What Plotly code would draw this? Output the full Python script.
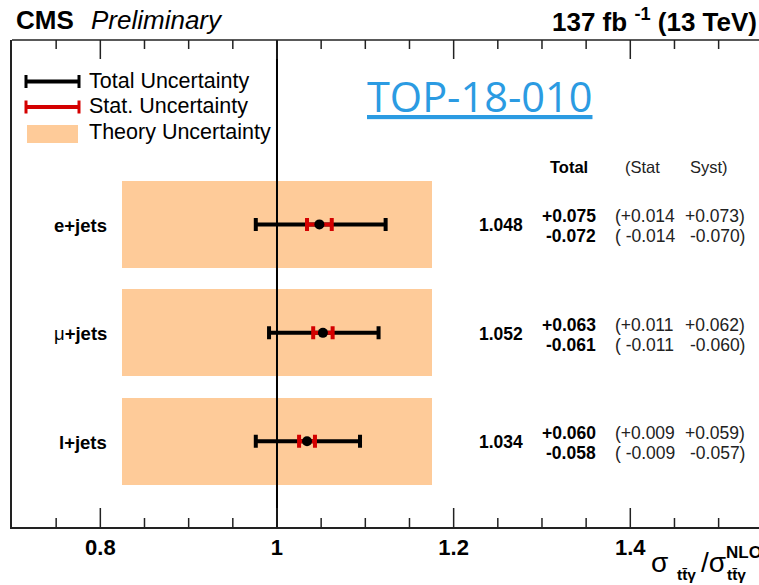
import plotly.graph_objects as go

# ---------------- data ----------------
channels = ["e+jets", "μ+jets", "l+jets"]
ypos = [3, 2, 1]
ratio = [1.048, 1.052, 1.034]
tot_up = [0.075, 0.063, 0.060]
tot_dn = [0.072, 0.061, 0.058]
stat_up = [0.014, 0.011, 0.009]
stat_dn = [0.014, 0.011, 0.009]
syst_up = [0.073, 0.062, 0.059]
syst_dn = [0.070, 0.060, 0.057]
theory_lo = [0.825, 0.825, 0.825]
theory_hi = [1.175, 1.175, 1.175]
major_ticks = [0.8, 1.0, 1.2, 1.4]
major_labels = ["0.8", "1", "1.2", "1.4"]
minor_ticks = [0.75, 0.85, 0.9, 0.95, 1.05, 1.1, 1.15, 1.25, 1.3, 1.35, 1.45, 1.5]

# ---------------- style ----------------
W, H = 759, 585
ML, MR, MT, MB = 12, 0, 40, 58
PW, PH = W - ML - MR, H - MT - MB
BAND = "#fecb99"
RED = "#d40000"
AX = "#222222"
FONT = "Liberation Sans, Arial, Helvetica, sans-serif"
YR = [0.21, 4.70]
XR = [0.70, 1.5457]
MAJ_LEN, MIN_LEN = 19, 9


def px(x):
    return (x - ML) / PW


def py(y):
    return (H - MB - y) / PH


fig = go.Figure()

# theory bands
fig.add_trace(go.Bar(
    y=ypos, x=[h - l for l, h in zip(theory_lo, theory_hi)], base=theory_lo,
    orientation="h", width=0.8, marker=dict(color=BAND, line=dict(width=0)),
    hoverinfo="skip"))

# reference line at 1
fig.add_trace(go.Scatter(x=[1, 1], y=YR, mode="lines",
                         line=dict(color="black", width=2), hoverinfo="skip"))

# total uncertainty
fig.add_trace(go.Scatter(
    x=ratio, y=ypos, mode="markers",
    marker=dict(size=1, color="rgba(0,0,0,0)"),
    error_x=dict(type="data", symmetric=False, array=tot_up, arrayminus=tot_dn,
                 color="black", thickness=4, width=6.5)))

# stat uncertainty
fig.add_trace(go.Scatter(
    x=ratio, y=ypos, mode="markers",
    marker=dict(size=1, color="rgba(0,0,0,0)"),
    error_x=dict(type="data", symmetric=False, array=stat_up, arrayminus=stat_dn,
                 color=RED, thickness=4, width=6.5)))

# central values
fig.add_trace(go.Scatter(x=ratio, y=ypos, mode="markers",
                         marker=dict(size=10, color="black")))

ann = []
shapes = []

# axis ticks (inside, bottom and mirrored top), placed on the x data scale
for vals, ln in ((major_ticks, MAJ_LEN), (minor_ticks, MIN_LEN)):
    for v in vals:
        shapes.append(dict(type="line", xref="x", yref="paper", x0=v, x1=v,
                           y0=0, y1=ln / PH, line=dict(color=AX, width=1.5)))
        shapes.append(dict(type="line", xref="x", yref="paper", x0=v, x1=v,
                           y0=1, y1=1 - ln / PH, line=dict(color=AX, width=1.5)))
# top frame line
shapes.append(dict(type="line", xref="paper", yref="paper", x0=0, x1=1, y0=1, y1=1,
                   line=dict(color=AX, width=1.5)))

# channel labels
for ch, y in zip(channels, ypos):
    txt = "μ<b>+jets</b>" if ch.startswith("μ") else "<b>%s</b>" % ch
    ann.append(dict(x=px(109), y=y, xref="paper", yref="y", text=txt,
                    xanchor="right", yanchor="middle", showarrow=False, yshift=-1,
                    font=dict(size=18.5, family=FONT, color="black")))

# numbers on the right
for i, y in enumerate(ypos):
    ann.append(dict(x=px(525), y=y, xref="paper", yref="y",
                    text="<b>%.3f</b>" % ratio[i], xanchor="right", yanchor="middle",
                    showarrow=False, yshift=-1, font=dict(size=17.5, family=FONT)))
    ann.append(dict(x=px(598), y=y, xref="paper", yref="y",
                    text="<b>+%.3f</b>" % tot_up[i], xanchor="right", yanchor="middle",
                    showarrow=False, yshift=8, font=dict(size=17.5, family=FONT)))
    ann.append(dict(x=px(598), y=y, xref="paper", yref="y",
                    text="<b>-%.3f</b>" % tot_dn[i], xanchor="right", yanchor="middle",
                    showarrow=False, yshift=-12, font=dict(size=17.5, family=FONT)))
    ann.append(dict(x=px(613), y=y, xref="paper", yref="y",
                    text="(+%.3f" % stat_up[i], xanchor="left", yanchor="middle",
                    showarrow=False, yshift=8, font=dict(size=17.5, family=FONT, color="#222")))
    ann.append(dict(x=px(747), y=y, xref="paper", yref="y",
                    text="+%.3f)" % syst_up[i], xanchor="right", yanchor="middle",
                    showarrow=False, yshift=8, font=dict(size=17.5, family=FONT, color="#222")))
    ann.append(dict(x=px(613), y=y, xref="paper", yref="y",
                    text="( -%.3f" % stat_dn[i], xanchor="left", yanchor="middle",
                    showarrow=False, yshift=-12, font=dict(size=17.5, family=FONT, color="#222")))
    ann.append(dict(x=px(747), y=y, xref="paper", yref="y",
                    text="-%.3f)" % syst_dn[i], xanchor="right", yanchor="middle",
                    showarrow=False, yshift=-12, font=dict(size=17.5, family=FONT, color="#222")))

# column headers
ann.append(dict(x=px(569), y=py(167), xref="paper", yref="paper", text="<b>Total</b>",
                xanchor="center", yanchor="middle", showarrow=False,
                font=dict(size=16.5, family=FONT)))
ann.append(dict(x=px(623), y=py(167), xref="paper", yref="paper", text="(Stat",
                xanchor="left", yanchor="middle", showarrow=False,
                font=dict(size=16.5, family=FONT, color="#222")))
ann.append(dict(x=px(730), y=py(167), xref="paper", yref="paper", text="Syst)",
                xanchor="right", yanchor="middle", showarrow=False,
                font=dict(size=16.5, family=FONT, color="#222")))

# header
ann.append(dict(x=px(14), y=py(20), xref="paper", yref="paper", text="<b>CMS</b>",
                xanchor="left", yanchor="middle", showarrow=False,
                font=dict(size=26, family=FONT)))
ann.append(dict(x=px(89), y=py(20), xref="paper", yref="paper", text="<i>Preliminary</i>",
                xanchor="left", yanchor="middle", showarrow=False,
                font=dict(size=26, family=FONT)))
ann.append(dict(x=px(759), y=py(20), xref="paper", yref="paper",
                text="<b>137 fb <sup>-1</sup> (13 TeV)</b>",
                xanchor="right", yanchor="middle", showarrow=False,
                font=dict(size=26, family=FONT)))

# TOP-18-010
ann.append(dict(x=px(479), y=py(96), xref="paper", yref="paper",
                text="<u>TOP-18-010</u>", xanchor="center", yanchor="middle",
                showarrow=False, font=dict(size=41.5, family="Open Sans, Lato, sans-serif",
                                           color="#2b9be2")))

# legend
LEG = [("Total Uncertainty", 81.5, "black"), ("Stat. Uncertainty", 107, RED)]
for lab, yy, col in LEG:
    shapes.append(dict(type="line", xref="paper", yref="paper",
                       x0=px(26), x1=px(79), y0=py(yy), y1=py(yy),
                       line=dict(color=col, width=4)))
    for xx in (26, 79):
        shapes.append(dict(type="line", xref="paper", yref="paper",
                           x0=px(xx), x1=px(xx), y0=py(yy - 6.5), y1=py(yy + 6.5),
                           line=dict(color=col, width=3)))
    ann.append(dict(x=px(87), y=py(yy - 1), xref="paper", yref="paper", text=lab,
                    xanchor="left", yanchor="middle", showarrow=False,
                    font=dict(size=21.5, family=FONT)))
shapes.append(dict(type="rect", xref="paper", yref="paper",
                   x0=px(27), x1=px(78), y0=py(143), y1=py(125),
                   fillcolor=BAND, line=dict(width=0)))
ann.append(dict(x=px(87), y=py(132), xref="paper", yref="paper", text="Theory Uncertainty",
                xanchor="left", yanchor="middle", showarrow=False,
                font=dict(size=21.5, family=FONT)))

# x-axis title
ann.append(dict(x=px(649), y=py(562), xref="paper", yref="paper", text="σ",
                xanchor="left", yanchor="middle", showarrow=False,
                font=dict(size=28, family=FONT)))
ann.append(dict(x=px(675), y=py(574), xref="paper", yref="paper", text="<b>tt̄γ</b>",
                xanchor="left", yanchor="middle", showarrow=False,
                font=dict(size=15.5, family=FONT)))
ann.append(dict(x=px(699), y=py(562), xref="paper", yref="paper", text="/σ",
                xanchor="left", yanchor="middle", showarrow=False,
                font=dict(size=28, family=FONT)))
ann.append(dict(x=px(724), y=py(552), xref="paper", yref="paper", text="<b>NLO</b>",
                xanchor="left", yanchor="middle", showarrow=False,
                font=dict(size=17, family=FONT)))
ann.append(dict(x=px(725), y=py(574), xref="paper", yref="paper", text="<b>tt̄γ</b>",
                xanchor="left", yanchor="middle", showarrow=False,
                font=dict(size=15.5, family=FONT)))

fig.update_layout(
    width=W, height=H, margin=dict(l=ML, r=MR, t=MT, b=MB, pad=0),
    showlegend=False, plot_bgcolor="white", paper_bgcolor="white",
    font=dict(family=FONT, color="black"),
    annotations=ann, shapes=shapes, bargap=0,
    xaxis=dict(range=XR, tickmode="array", tickvals=major_ticks, ticktext=major_labels,
               ticks="", showline=True, linecolor=AX, linewidth=1.5, mirror=False,
               showgrid=False, zeroline=False,
               tickfont=dict(size=22, family=FONT, weight="bold", color="black")),
    yaxis=dict(range=YR, showticklabels=False, ticks="", showline=True,
               linecolor=AX, linewidth=1.5, mirror=False, showgrid=False,
               zeroline=False),
)

fig.write_html("out.html")
